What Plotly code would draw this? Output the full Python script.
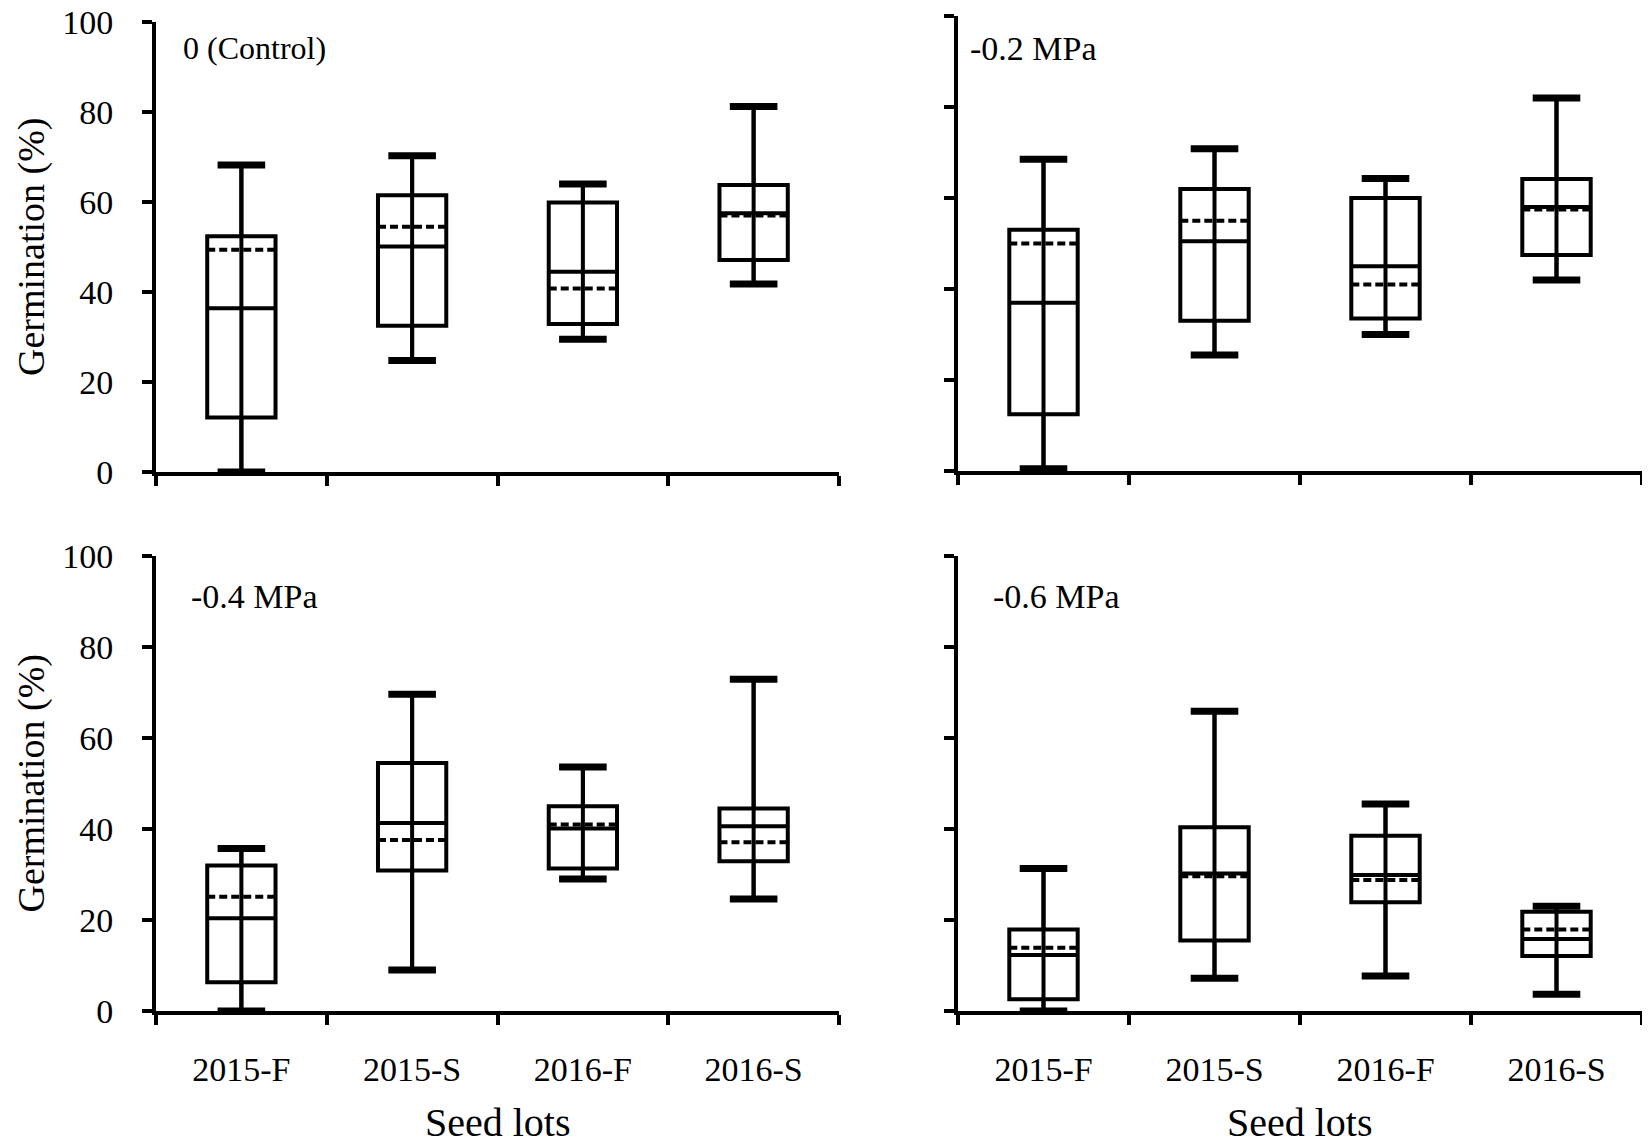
import plotly.graph_objects as go

categories = ["2015-F", "2015-S", "2016-F", "2016-S"]
panel_labels = ["0 (Control)", "-0.2 MPa", "-0.4 MPa", "-0.6 MPa"]

# Per panel: whisker min, Q1, median, mean, Q3, whisker max
p_min = [
    [0.0, 24.8, 29.5, 41.8],
    [0.5, 25.5, 30.0, 42.0],
    [0.0, 9.0, 29.0, 24.6],
    [0.0, 7.2, 7.7, 3.7],
]
p_q1 = [
    [12.1, 32.5, 32.9, 47.1],
    [12.5, 33.0, 33.5, 47.5],
    [6.3, 30.9, 31.3, 32.9],
    [2.6, 15.5, 23.9, 12.1],
]
p_median = [
    [36.4, 50.1, 44.5, 57.5],
    [37.0, 50.5, 45.0, 58.0],
    [20.4, 41.3, 40.1, 40.6],
    [12.3, 30.2, 29.9, 15.8],
]
p_mean = [
    [49.4, 54.5, 40.8, 57.0],
    [50.0, 55.0, 41.0, 57.5],
    [25.1, 37.6, 41.0, 37.1],
    [13.9, 29.6, 28.8, 17.9],
]
p_q3 = [
    [52.4, 61.5, 59.9, 63.8],
    [53.0, 62.0, 60.0, 64.2],
    [32.0, 54.5, 45.0, 44.5],
    [17.9, 40.4, 38.5, 21.8],
]
p_max = [
    [68.2, 70.3, 64.0, 81.2],
    [68.5, 70.8, 64.3, 82.0],
    [35.7, 69.6, 53.6, 72.9],
    [31.3, 65.9, 45.5, 23.0],
]
y_ticks = [0, 20, 40, 60, 80, 100]

W, H = 1650, 1148
FONT = "Liberation Serif"
LW = 4

# pixel geometry of the plot areas inside the figure (left, right, top, bottom)
areas = [
    (148, 831, 14, 464),
    (950, 1634, 8, 463),
    (148, 831, 548, 1003),
    (950, 1634, 548, 1003),
]
label_pos = [(173, 40), (960, 40), (181, 589), (983, 588)]

fig = go.Figure()
layout = dict(
    width=W, height=H,
    margin=dict(l=0, r=0, t=0, b=0, autoexpand=False),
    paper_bgcolor="white", plot_bgcolor="white",
    showlegend=False,
    font=dict(family=FONT, color="black", size=32),
)
annotations = []

for i in range(4):
    xa = "x" if i == 0 else f"x{i+1}"
    ya = "y" if i == 0 else f"y{i+1}"
    l, r, t, b = areas[i]
    xkey = "xaxis" if i == 0 else f"xaxis{i+1}"
    ykey = "yaxis" if i == 0 else f"yaxis{i+1}"
    bottom_row = i >= 2
    left_col = i % 2 == 0
    layout[xkey] = dict(
        domain=[l / W, r / W], anchor=ya, automargin=False,
        type="category", categoryorder="array", categoryarray=categories,
        range=[-0.5, 3.5], tickson="boundaries",
        showline=True, linecolor="black", linewidth=4,
        ticks="outside", ticklen=10, tickwidth=4, tickcolor="black",
        showticklabels=bottom_row, ticklabelstandoff=25,
        tickfont=dict(family=FONT, size=34, color="black"),
        showgrid=False, zeroline=False, fixedrange=True,
    )
    layout[ykey] = dict(
        domain=[1 - b / H, 1 - t / H], anchor=xa, automargin=False,
        range=[0, 100], tickvals=y_ticks, ticklabeloverflow="allow",
        showline=True, linecolor="black", linewidth=4,
        ticks="outside", ticklen=10, tickwidth=4, tickcolor="black",
        showticklabels=left_col, ticklabelstandoff=22,
        tickfont=dict(family=FONT, size=34, color="black"),
        showgrid=False, zeroline=False, fixedrange=True,
    )

    fig.add_trace(go.Box(
        x=categories,
        q1=p_q1[i], median=p_median[i], q3=p_q3[i],
        lowerfence=p_min[i], upperfence=p_max[i], mean=p_mean[i],
        boxmean=True, boxpoints=False,
        width=0.4, whiskerwidth=0,
        line=dict(color="black", width=LW),
        fillcolor="rgba(0,0,0,0)",
        xaxis=xa, yaxis=ya, hoverinfo="skip",
    ))

    # vertical whisker line that runs through each box
    wx, wy = [], []
    for c, lo, hi in zip(categories, p_min[i], p_max[i]):
        wx += [c, c, None]
        wy += [lo, hi, None]
    fig.add_trace(go.Scatter(
        x=wx, y=wy, mode="lines",
        line=dict(color="black", width=LW),
        xaxis=xa, yaxis=ya, hoverinfo="skip", cliponaxis=False,
    ))
    # thick whisker caps
    fig.add_trace(go.Scatter(
        x=categories + categories, y=p_min[i] + p_max[i], mode="markers",
        marker=dict(symbol="line-ew", size=34, color="black",
                    line=dict(color="black", width=7)),
        xaxis=xa, yaxis=ya, hoverinfo="skip", cliponaxis=False,
    ))

    # panel label
    lx, ly = label_pos[i]
    annotations.append(dict(
        text=panel_labels[i], xref="paper", yref="paper",
        x=lx / W, y=1 - ly / H,
        xanchor="left", yanchor="middle", showarrow=False,
        font=dict(family=FONT, size=32 if i == 0 else 34, color="black"),
    ))
    if left_col:
        annotations.append(dict(
            text="Germination (%)", xref="paper", yref="paper",
            x=23 / W, y=1 - ((t + b) / 2) / H, textangle=-90,
            xanchor="center", yanchor="middle", showarrow=False,
            font=dict(family=FONT, size=38, color="black"),
        ))
    if bottom_row:
        annotations.append(dict(
            text="Seed lots", xref="paper", yref="paper",
            x=((l + r) / 2) / W, y=1 - 1114 / H,
            xanchor="center", yanchor="middle", showarrow=False,
            font=dict(family=FONT, size=40, color="black"),
        ))

layout["annotations"] = annotations
fig.update_layout(**layout)
fig.write_html("out.html")
